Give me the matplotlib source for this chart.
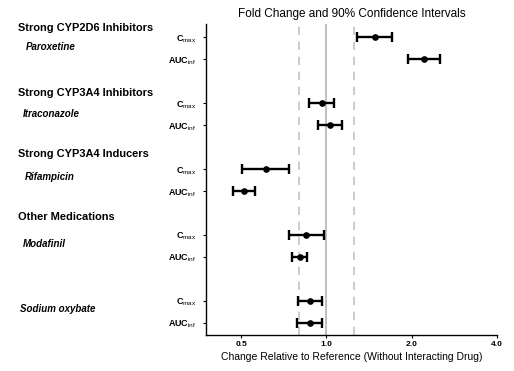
import matplotlib.pyplot as plt
import matplotlib.transforms as mtransforms

plt.rcParams['font.family'] = ['Liberation Sans', 'DejaVu Sans']
plt.rcParams['mathtext.fontset'] = 'custom'
plt.rcParams['mathtext.rm'] = 'Liberation Sans'

# datos (cociente y IC 90%)
parametros = ["C$_\\mathrm{max}$", "AUC$_\\mathrm{inf}$"] * 5
filas = [0, 1, 3, 4, 6, 7, 9, 10, 12, 13]
estimado = [1.48, 2.21, 0.963, 1.033, 0.613, 0.514, 0.848, 0.807, 0.875, 0.873]
ic_bajo = [1.28, 1.94, 0.871, 0.937, 0.504, 0.469, 0.737, 0.759, 0.797, 0.786]
ic_alto = [1.70, 2.51, 1.067, 1.138, 0.741, 0.560, 0.978, 0.855, 0.963, 0.968]

grupos = ["Strong CYP2D6 Inhibitors", "Strong CYP3A4 Inhibitors",
          "Strong CYP3A4 Inducers", "Other Medications"]
grupos_y = [-0.44, 2.53, 5.32, 8.2]
farmacos = ["Paroxetine", "Itraconazole", "Rifampicin", "Modafinil", "Sodium oxybate"]
farmacos_y = [0.45, 3.5, 6.36, 9.4, 12.38]
farmacos_x = [0.05, 0.045, 0.049, 0.045, 0.039]

ticks_x = [0.5, 1.0, 2.0, 4.0]

fig = plt.figure(figsize=(5.14, 3.71), dpi=100)
ax = fig.add_axes([206 / 514, 1 - 335 / 371, (497 - 206) / 514, (335 - 24) / 371])

ax.axvline(1.0, color="#b4b4b4", lw=1.2, zorder=1)
for v in [0.8, 1.25]:
    ax.axvline(v, color="#c4c4c4", lw=1.2, ls=(0, (5, 4)), zorder=1)

err = [[e - lo for e, lo in zip(estimado, ic_bajo)],
       [hi - e for e, hi in zip(estimado, ic_alto)]]
ax.errorbar(estimado, filas, xerr=err, fmt="o", color="black", ms=3.8,
            elinewidth=1.7, capsize=3.7, capthick=1.7, zorder=3)

ax.set_xscale("log")
ax.set_xlim(0.376, 4.0)
ax.set_ylim(13.55, -0.6)
ax.set_xticks(ticks_x)
ax.set_xticklabels([f"{t:.1f}" for t in ticks_x], fontsize=6, fontweight="bold")
ax.minorticks_off()
ax.set_yticks(filas)
ax.set_yticklabels(parametros, fontsize=6.5, fontweight="bold")
ax.tick_params(axis="both", length=2, width=0.8, pad=2)
ax.tick_params(axis="y", pad=5)
ax.spines["top"].set_visible(False)
ax.spines["right"].set_visible(False)
ax.spines["left"].set_linewidth(1.0)
ax.spines["bottom"].set_linewidth(1.0)

ax.set_title("Fold Change and 90% Confidence Intervals", fontsize=8.5, pad=5)
ax.set_xlabel("Change Relative to Reference (Without Interacting Drug)", fontsize=7.5, labelpad=3)

trans = mtransforms.blended_transform_factory(fig.transFigure, ax.transData)
for g, y in zip(grupos, grupos_y):
    ax.text(0.035, y, g, transform=trans, fontsize=7.9, fontweight="bold",
            va="center", ha="left")
for f, y, x in zip(farmacos, farmacos_y, farmacos_x):
    ax.text(x, y, f, transform=trans, fontsize=7, fontweight="bold",
            style="italic", va="center", ha="left")

plt.savefig("out.png", dpi=100)
